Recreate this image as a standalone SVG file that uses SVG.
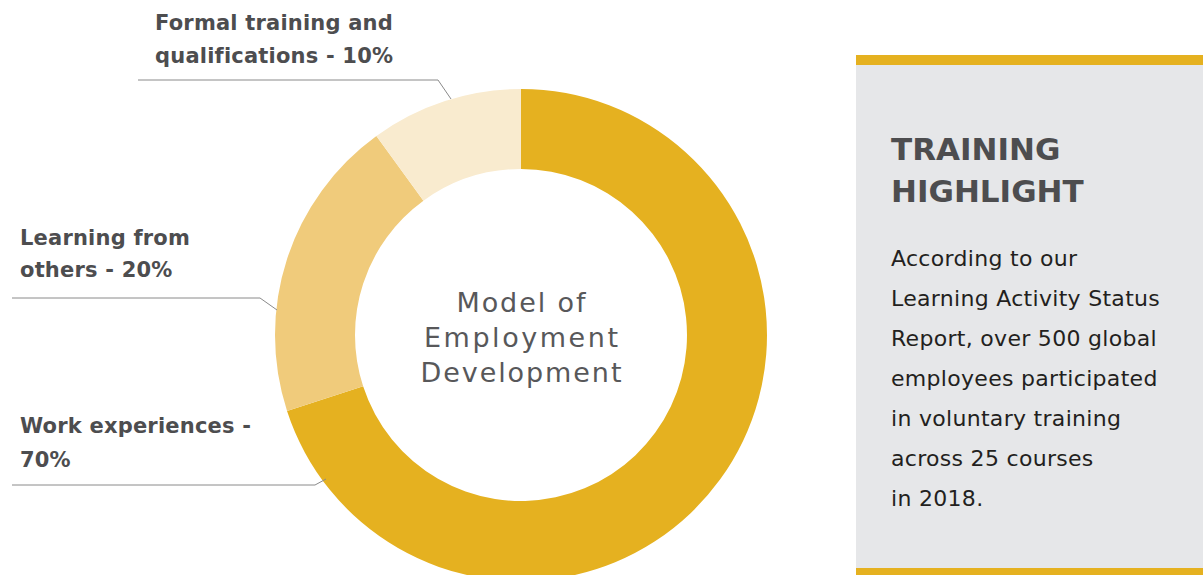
<svg xmlns="http://www.w3.org/2000/svg" width="1203" height="575" viewBox="0 0 1203 575">
<style>
.lbl{font-family:"DejaVu Sans","Liberation Sans",sans-serif;font-weight:bold;font-size:21px;letter-spacing:0.2px;fill:#4d4d4f}
.ctr{font-family:"DejaVu Sans","Liberation Sans",sans-serif;font-size:27px;fill:#58585a;text-anchor:middle}
.ttl{font-family:"DejaVu Sans","Liberation Sans",sans-serif;font-weight:bold;font-size:31px;fill:#4d4d4f}
.body{font-family:"DejaVu Sans","Liberation Sans",sans-serif;font-size:22px;letter-spacing:0.3px;fill:#231f20}
.lead{fill:none;stroke:#8a8a8a;stroke-width:1}
</style>
<rect width="1203" height="575" fill="#ffffff"/>
<g id="donut">
<path d="M521,89 A246,246 0 1 1 287.04,411.02 L363.12,386.30 A166,166 0 1 0 521,169 Z" fill="#e5b120"/>
<path d="M287.04,411.02 A246,246 0 0 1 376.40,135.98 L423.43,200.70 A166,166 0 0 0 363.12,386.30 Z" fill="#f0cb7b"/>
<path d="M376.40,135.98 A246,246 0 0 1 521,89 L521,169 A166,166 0 0 0 423.43,200.70 Z" fill="#f9ebcf"/>
</g>
<g id="center">
<text class="ctr" x="521" y="312" textLength="129" lengthAdjust="spacing">Model of</text>
<text class="ctr" x="521" y="347" textLength="194" lengthAdjust="spacing">Employment</text>
<text class="ctr" x="521" y="382" textLength="201" lengthAdjust="spacing">Development</text>
</g>
<g id="connectors">
<polyline class="lead" points="138,80 438,80 451,99"/>
<polyline class="lead" points="12,298 260,298 277,310"/>
<polyline class="lead" points="12,485 315,485 326,479"/>
</g>
<g id="label-formal">
<text class="lbl" x="155" y="30">Formal training and</text>
<text class="lbl" x="155" y="63">qualifications - 10%</text>
</g>
<g id="label-learning">
<text class="lbl" x="20" y="245">Learning from</text>
<text class="lbl" x="20" y="277">others - 20%</text>
</g>
<g id="label-work">
<text class="lbl" x="20" y="433">Work experiences -</text>
<text class="lbl" x="20" y="467">70%</text>
</g>
<g id="highlight">
<rect x="856" y="55" width="347" height="520" fill="#e6e7e9"/>
<rect x="856" y="55" width="347" height="10" fill="#e5b120"/>
<rect x="856" y="568" width="347" height="7" fill="#e5b120"/>
<text class="ttl" x="891" y="160">TRAINING</text>
<text class="ttl" x="891" y="202">HIGHLIGHT</text>
<text class="body" x="891" y="266">According to our</text>
<text class="body" x="891" y="306">Learning Activity Status</text>
<text class="body" x="891" y="346">Report, over 500 global</text>
<text class="body" x="891" y="386">employees participated</text>
<text class="body" x="891" y="426">in voluntary training</text>
<text class="body" x="891" y="466">across 25 courses</text>
<text class="body" x="891" y="506">in 2018.</text>
</g>
</svg>
